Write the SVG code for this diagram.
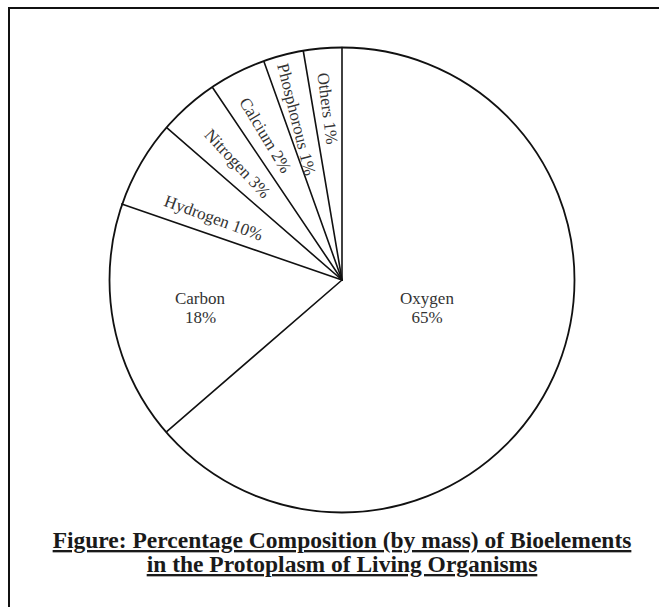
<svg xmlns="http://www.w3.org/2000/svg" width="659" height="607" viewBox="0 0 659 607">
<style>
.rim{fill:#fff;stroke:#111;stroke-width:1.8}
.rad{stroke:#111;stroke-width:1.6;fill:none;stroke-linecap:round}
.lbl{font-family:"Liberation Serif","Times New Roman",serif;font-size:17px;fill:#333}
.ttl{font-family:"Liberation Serif","Times New Roman",serif;font-size:23.5px;font-weight:bold;fill:#1a1a1a;text-decoration:underline}
</style>
<rect x="0" y="0" width="659" height="607" fill="#fff"/>
<path d="M9,607 V8 H659" fill="none" stroke="#111" stroke-width="2"/>
<g id="pie">
<circle class="rim" cx="342" cy="280" r="232.5"/>
</g>
<g id="connectors">
<line class="rad" x1="342" y1="280" x2="166.7" y2="431.7"/>
<line class="rad" x1="342" y1="280" x2="121.7" y2="204"/>
<line class="rad" x1="342" y1="280" x2="166.7" y2="127.7"/>
<line class="rad" x1="342" y1="280" x2="212.7" y2="87.7"/>
<line class="rad" x1="342" y1="280" x2="264" y2="61.7"/>
<line class="rad" x1="342" y1="280" x2="303.3" y2="51"/>
<line class="rad" x1="342" y1="280" x2="342" y2="47.5"/>
</g>
<g id="oxygen">
<text class="lbl" x="427" y="304" text-anchor="middle">Oxygen</text>
<text class="lbl" x="427" y="323" text-anchor="middle">65%</text>
</g>
<g id="carbon">
<text class="lbl" x="200" y="303.5" text-anchor="middle">Carbon</text>
<text class="lbl" x="200.5" y="323" text-anchor="middle">18%</text>
</g>
<g id="hydrogen">
<text class="lbl" text-anchor="middle" transform="translate(211.7,223.2) rotate(20)">Hydrogen 10%</text>
</g>
<g id="nitrogen">
<text class="lbl" text-anchor="middle" transform="translate(233.3,167.5) rotate(47)">Nitrogen 3%</text>
</g>
<g id="calcium">
<text class="lbl" text-anchor="middle" transform="translate(260.6,138.1) rotate(59)">Calcium 2%</text>
</g>
<g id="phosphorous">
<text class="lbl" text-anchor="middle" transform="translate(291,120.7) rotate(76)">Phosphorous 1%</text>
</g>
<g id="others">
<text class="lbl" text-anchor="middle" transform="translate(322,109.2) rotate(82.5)">Others 1%</text>
</g>
<g id="caption">
<text class="ttl" x="342" y="548" text-anchor="middle">Figure: Percentage Composition (by mass) of Bioelements</text>
<text class="ttl" x="342" y="572" text-anchor="middle">in the Protoplasm of Living Organisms</text>
</g>
</svg>
